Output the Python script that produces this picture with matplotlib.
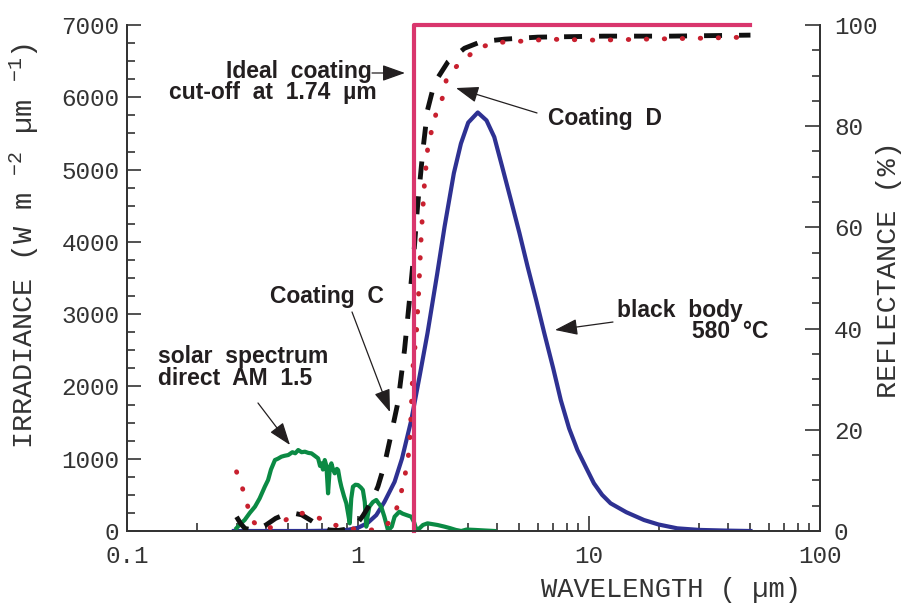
import matplotlib
matplotlib.use("Agg")
import matplotlib.pyplot as plt
from matplotlib.ticker import FixedLocator, FixedFormatter, LogLocator, MultipleLocator, NullFormatter

plt.rcParams['font.family'] = ['Liberation Mono', 'DejaVu Sans Mono']
plt.rcParams['mathtext.fontset'] = 'custom'
plt.rcParams['mathtext.rm'] = 'Liberation Mono'
plt.rcParams['mathtext.it'] = 'Liberation Mono'

# solar spectrum, direct AM 1.5 (W m-2 um-1)
solar_wl = [0.298, 0.31, 0.323, 0.34, 0.358, 0.375, 0.395, 0.408, 0.42, 0.437, 0.45, 0.466, 0.48,
            0.499, 0.52, 0.535, 0.551, 0.57, 0.589, 0.61, 0.629, 0.65, 0.672, 0.685, 0.694, 0.705,
            0.718, 0.73, 0.742, 0.755, 0.767, 0.78, 0.793, 0.81, 0.82, 0.835, 0.847, 0.87, 0.89,
            0.905, 0.921, 0.935, 0.951, 0.975, 1.0, 1.03, 1.05, 1.07, 1.086, 1.10, 1.12, 1.16, 1.20,
            1.23, 1.26, 1.30, 1.35, 1.40, 1.44, 1.51, 1.56, 1.62, 1.70, 1.75, 1.79, 1.85, 1.91, 2.0,
            2.1, 2.21, 2.37, 2.5, 2.65, 2.8, 2.95, 3.2, 3.5, 3.9]
solar_irr = [40, 100, 152, 250, 336, 450, 613, 705, 850, 982, 1000, 1028, 1040,
             1051, 1090, 1075, 1120, 1090, 1097, 1080, 1074, 1040, 1005, 900, 936, 850,
             982, 900, 521, 880, 936, 850, 798, 860, 844, 700, 613, 480, 383,
             250, 106, 450, 613, 640, 636, 600, 567, 400, 60, 200, 336, 400, 429,
             380, 336, 200, 5, 60, 198, 267, 240, 221, 198, 120, 14, 40, 83, 106,
             95, 83, 60, 40, 15, 0, 20, 15, 8, 0]

# black body 580 C (W m-2 um-1)
bb_wl = [0.29, 0.6, 0.8, 0.9, 1.0, 1.1, 1.2, 1.3, 1.44, 1.55, 1.70, 1.85, 2.0, 2.2, 2.37, 2.6,
         2.79, 3.0, 3.3, 3.6, 3.89, 4.2, 4.59, 5.0, 5.42, 5.9, 6.4, 7.0, 7.55, 8.2, 8.91, 9.7,
         10.5, 11.4, 12.4, 14.5, 17.3, 20, 24.1, 30, 40, 50]
bb_irr = [0, 0, 5, 15, 45, 110, 220, 400, 680, 1000, 1530, 2150, 2740, 3550, 4210, 4950,
          5360, 5650, 5790, 5680, 5450, 5050, 4580, 4120, 3660, 3200, 2740, 2250, 1810, 1420, 1120, 880,
          660, 500, 383, 260, 152, 90, 37, 15, 5, 0]

# reflectance of coating C (%)
c_wl = [0.298, 0.31, 0.324, 0.35, 0.37, 0.40, 0.44, 0.49, 0.53, 0.57, 0.63, 0.69, 0.75, 0.82, 0.9,
        0.98, 1.05, 1.10, 1.16, 1.22, 1.30, 1.39, 1.49, 1.59, 1.67, 1.75, 1.81, 1.91, 2.0, 2.1,
        2.21, 2.45, 2.89, 3.41, 4.3, 6.0, 11.6, 22.6, 50]
c_ref = [2.8, 1.5, 0.5, 0.2, 0.4, 1.2, 2.5, 3.4, 3.5, 3.2, 2.0, 0.8, 0.2, 0.1, 0.4,
         1.2, 3.0, 4.5, 6.5, 8.8, 13, 19, 25.5, 35.8, 45.6, 55.5, 64.1, 75.3, 83.2, 87,
         89.5, 92.7, 95.4, 96.7, 97.2, 97.6, 97.8, 97.8, 98.0]

# reflectance of coating D (%)
d_wl = [0.298, 0.318, 0.335, 0.35, 0.37, 0.40, 0.43, 0.466, 0.50, 0.55, 0.60, 0.66, 0.72, 0.79,
        0.9, 1.0, 1.14, 1.25, 1.35, 1.42, 1.49, 1.56, 1.62, 1.67, 1.70, 1.73, 1.79, 1.83, 1.88,
        1.94, 2.0, 2.07, 2.18, 2.33, 2.41, 2.53, 2.8, 3.3, 3.9, 4.6, 5.6, 6.6, 10.9, 17.3, 31.5, 48]
d_ref = [11.7, 8.1, 4.5, 2.0, 0.8, 0.5, 0.8, 1.5, 2.6, 3.6, 3.4, 2.8, 2.0, 1.2,
         0.6, 0.3, 0.2, 0.6, 1.5, 3.0, 5.1, 8.8, 12.4, 16.3, 24, 32.5, 39.1, 47.0, 58.8,
         68.7, 75.3, 78.6, 82.6, 85.8, 89.1, 90.8, 92.7, 95.4, 96.5, 96.7, 96.9, 97.2, 97.0, 97.2, 97.4, 97.6]

# ideal coating, cut-off at 1.74 um (%)
ideal_wl = [1.74, 1.74, 50]
ideal_ref = [0, 100, 100]

x_ticks = [0.1, 1, 10, 100]
x_labels = ['0.1', '1', '10', '100']

txt = '#231f20'
axc = '#333333'

fig = plt.figure(figsize=(9.06, 6.04), dpi=100)
ax = fig.add_axes([127 / 906, 73 / 604, 693 / 906, 506 / 604])
ax2 = ax.twinx()

ax.plot(bb_wl, bb_irr, color='#2e3192', lw=3.0, solid_joinstyle='round')
ax.plot(solar_wl, solar_irr, color='#0b8a44', lw=3.0, solid_joinstyle='round')

ax2.plot(c_wl, c_ref, color='#111111', lw=3.5, linestyle=(0, (3.7, 3.5)))
ax2.plot(d_wl, d_ref, color='#c8202f', lw=3.5, linestyle=(0, (0.1, 3.6)), dash_capstyle='round')
ax2.plot(ideal_wl, ideal_ref, color='#d9366d', lw=3.0, clip_on=False)

ax.set_xscale('log')
ax.set_xlim(0.1, 100)
ax.set_ylim(0, 7000)
ax2.set_ylim(0, 100)

ax.xaxis.set_major_locator(FixedLocator(x_ticks))
ax.xaxis.set_major_formatter(FixedFormatter(x_labels))
ax.xaxis.set_minor_locator(LogLocator(base=10, subs=range(2, 10)))
ax.xaxis.set_minor_formatter(NullFormatter())
ax.yaxis.set_major_locator(MultipleLocator(1000))
ax.yaxis.set_minor_locator(MultipleLocator(250))
ax2.yaxis.set_major_locator(MultipleLocator(20))
ax2.yaxis.set_minor_locator(MultipleLocator(5))

for a in (ax, ax2):
    a.spines['top'].set_visible(False)
    for s in a.spines.values():
        s.set_color(axc)
        s.set_linewidth(1.3)

ax.tick_params(axis='y', which='major', direction='in', length=10, width=1.2, color=axc,
               labelsize=17.5, labelcolor=axc, pad=5.5)
ax.tick_params(axis='y', which='minor', direction='in', length=6, width=1.2, color=axc)
ax.tick_params(axis='x', which='major', direction='in', length=11, width=1.2, color=axc,
               labelsize=17.5, labelcolor=axc, pad=10)
ax.tick_params(axis='x', which='minor', direction='in', length=6, width=1.2, color=axc)
ax2.tick_params(axis='y', which='major', direction='in', length=11, width=1.2, color=axc,
                labelsize=17.5, labelcolor=axc, pad=10)
ax2.tick_params(axis='y', which='minor', direction='in', length=5.5, width=1.2, color=axc)

ax.set_xlabel('WAVELENGTH ( µm)', fontsize=19.5, color=axc, va='center')
ax.xaxis.set_label_coords(0.785, -0.117)
ax.set_ylabel('IRRADIANCE (W m $^{-2}$ µm $^{-1}$)', fontsize=20.5, color=axc, va='center')
ax.yaxis.set_label_coords(-0.148, 0.563)
ax2.set_ylabel('REFLECTANCE (%)', fontsize=20.5, color=axc, rotation=90, va='center')
ax2.yaxis.set_label_coords(1.1, 0.516)

note = dict(fontsize=16.5, fontweight='bold', family='Liberation Sans', color=txt, va='baseline')
arrow = dict(arrowstyle='-|>,head_length=0.7,head_width=0.25', color=txt, lw=0.9,
             mutation_scale=20, shrinkA=0, shrinkB=0)

ax.text(1.15, 6267, 'Ideal  coating', ha='right', **note)
ax.text(1.209, 5976, 'cut-off  at  1.74  µm', ha='right', **note)
ax.annotate('', xy=(1.597, 6336), xytext=(1.15, 6336), arrowprops=arrow)

ax.text(6.645, 5617, 'Coating  D', ha='left', **note)
ax.annotate('', xy=(2.656, 6128), xytext=(5.956, 5783), arrowprops=arrow)

ax.text(0.416, 3154, 'Coating  C', ha='left', **note)
ax.annotate('', xy=(1.375, 1646), xytext=(0.942, 3030), arrowprops=arrow)

ax.text(0.1362, 2020, 'solar  spectrum\ndirect  AM  1.5', ha='left', linespacing=0.92, **note)
ax.annotate('', xy=(0.5076, 1190), xytext=(0.369, 1771), arrowprops=arrow)

ax.text(13.22, 2960, 'black  body', ha='left', **note)
ax.text(27.9, 2670, '580  °C', ha='left', **note)
ax.annotate('', xy=(7.125, 2781), xytext=(12.70, 2891), arrowprops=arrow)

fig.savefig('out.png', dpi=100)
